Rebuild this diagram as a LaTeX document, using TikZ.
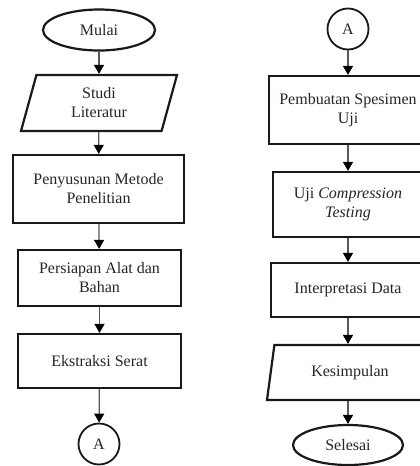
\documentclass[tikz,border=0pt]{standalone}
\usepackage{fontspec}
\setmainfont{Liberation Serif}
\usetikzlibrary{shapes.geometric,arrows.meta}
\begin{document}
\begin{tikzpicture}[x=1pt,y=-1pt,
  every node/.style={font=\fontsize{16}{19}\selectfont, text=black!85, align=center, inner sep=0pt},
  shp/.style={draw=black!90, line width=2.2pt},
  term/.style={shp, ellipse},
  conn/.style={shp, circle, minimum size=41pt, line width=1.8pt},
  proc/.style={shp, rectangle},
  io/.style={shp, trapezium, trapezium left angle=63, trapezium right angle=117, trapezium stretches body},
  flow/.style={draw=black!65, line width=1.2pt, -{Triangle[length=9pt,width=10pt,color=black]}}
]
\useasboundingbox (0,0) rectangle (420,466);
\clip (0,0) rectangle (420,466);
\fill[white] (0,0) rectangle (420,466);
% left column
\node[term, minimum width=112pt, minimum height=41pt] (mulai) at (99,30) {Mulai};
\node[io, minimum width=156pt, minimum height=56pt] (studi) at (99,103) {Studi\\Literatur};
\node[proc, minimum width=171pt, minimum height=68pt] (metode) at (98.5,189) {Penyusunan Metode\\Penelitian};
\node[proc, minimum width=163pt, minimum height=56pt] (alat) at (99.5,278) {Persiapan Alat dan\\Bahan};
\node[proc, minimum width=163pt, minimum height=54pt] (serat) at (99.5,361) {Ekstraksi Serat};
\node[conn] (a1) at (99,444) {A};
% right column
\node[conn] (a2) at (348,29) {A};
\node[proc, minimum width=158pt, minimum height=68pt] (spesimen) at (348,110) {Pembuatan Spesimen\\Uji};
\node[proc, minimum width=150pt, minimum height=65pt] (uji) at (348,204.5) {Uji \textit{Compression}\\\textit{Testing}};
\node[proc, minimum width=154pt, minimum height=54pt] (data) at (348,290) {Interpretasi Data};
\node[io, minimum width=166pt, minimum height=55pt] (simpul) at (350,372.5) {Kesimpulan};
\node[term, minimum width=110pt, minimum height=40pt] (selesai) at (348,445) {Selesai};
% connectors
\draw[flow] (mulai) -- (studi);
\draw[flow] (studi) -- (metode);
\draw[flow] (metode) -- (alat);
\draw[flow] (alat) -- (serat);
\draw[flow] (serat) -- (a1);
\draw[flow] (a2) -- (spesimen);
\draw[flow] (spesimen) -- (uji);
\draw[flow] (uji) -- (data);
\draw[flow] (data.south) -- (data.south |- simpul.north);
\draw[flow] (selesai.north |- simpul.south) -- (selesai);
\end{tikzpicture}
\end{document}
